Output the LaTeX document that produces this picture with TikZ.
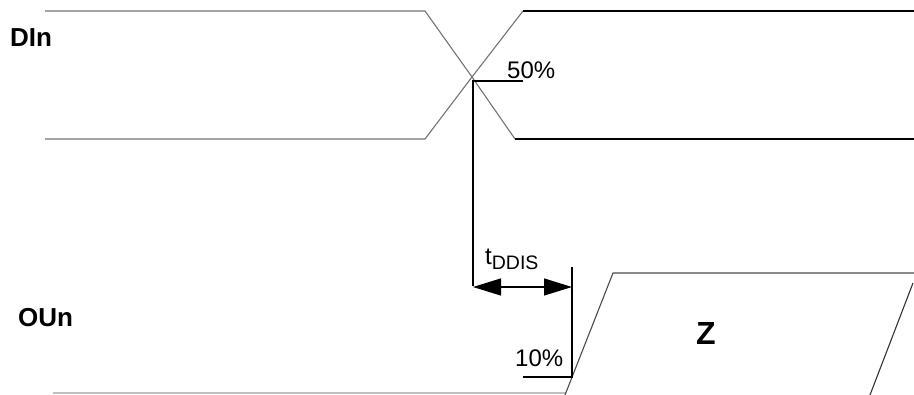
\documentclass[tikz,border=0pt]{standalone}
\usepackage{fontspec}
\setmainfont{Liberation Sans}
\usetikzlibrary{arrows.meta}
\begin{document}
\begin{tikzpicture}[x=1pt,y=-1pt,
  lbl/.style={inner sep=0pt,anchor=base west,font=\fontsize{24}{28}\selectfont},
  sig/.style={inner sep=0pt,anchor=base west,font=\fontsize{26}{30}\selectfont\bfseries},
  wavegray/.style={line width=1.1pt,draw=black!55},
  waveblack/.style={line width=1.4pt,draw=black},
  dim/.style={line width=1.3pt,draw=black},
  dimarrow/.style={line width=1.3pt,{Triangle[length=28pt,width=17pt]}-{Triangle[length=28pt,width=17pt]}}]
\useasboundingbox (0,0) rectangle (914,395);
% DIn waveform
\draw[wavegray] (45,11) -- (425,11) -- (472,77);
\draw[wavegray] (45,139) -- (425,139) -- (472,77);
\draw[wavegray] (472,77) -- (515,139);
\draw[wavegray] (472,77) -- (523,11);
\draw[waveblack] (515,139) -- (914,139);
\draw[waveblack] (523,11) -- (914,11);
% OUn waveform
\draw[line width=1.1pt,draw=black!25] (53,393) -- (566,393);
\draw[line width=1.1pt,draw=black!70] (565,395) -- (613,273) -- (914,273);
\draw[line width=1.1pt,draw=black!80] (870,395) -- (913,283);
% measurement lines
\coordinate (cross) at (473,81);
\coordinate (m50) at (523,81);
\coordinate (vbot) at (473,286);
\coordinate (rtop) at (572,267);
\coordinate (rbot) at (572,377);
\coordinate (m10) at (523,377);
\coordinate (al) at (473,287);
\coordinate (ar) at (572,287);
\draw[dim] (m50) -- (cross) -- (vbot);
\draw[dim] (rtop) -- (rbot) -- (m10);
\draw[dimarrow] (al) -- (ar);
% labels
\node[sig] (din) at (10,47) {DIn};
\node[sig] (oun) at (18,327) {OUn};
\node[lbl] (p50) at (507,79) {50\%};
\node[lbl] (p10) at (515,367) {10\%};
\node[lbl] (tdd) at (485,265) {t\raisebox{-5pt}{\fontsize{19.5}{22}\selectfont DDIS}};
\node[inner sep=0pt,anchor=base west,font=\fontsize{32}{36}\selectfont\bfseries] (z) at (696,345) {Z};
\end{tikzpicture}
\end{document}
